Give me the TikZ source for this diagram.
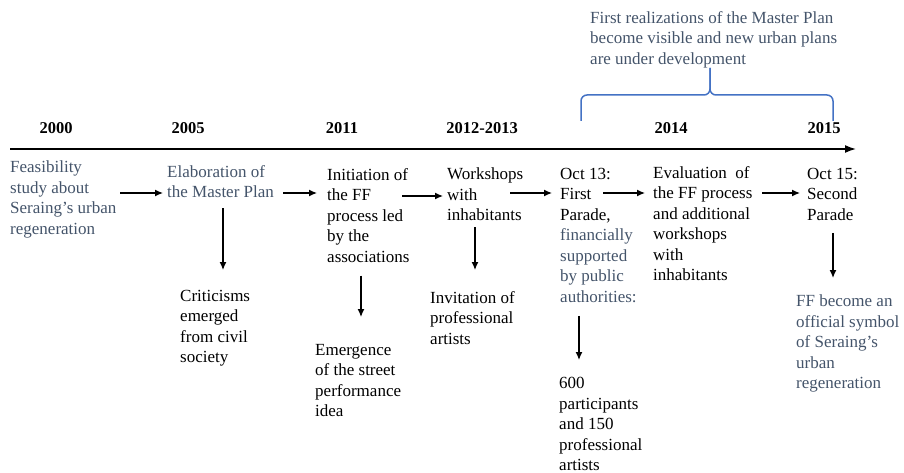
\documentclass[tikz,border=0pt]{standalone}
\usepackage{fontspec}
\setmainfont{Liberation Serif}
\usetikzlibrary{positioning,calc,arrows.meta}
\definecolor{noteblue}{HTML}{44546A}
\definecolor{braceblue}{HTML}{4472C4}

\begin{document}
\begin{tikzpicture}[
        x=1pt, y=-1pt,
        event/.style={anchor=north west, inner sep=0pt, align=left, font=\fontsize{17}{20.5}\selectfont},
        note/.style={event, text=noteblue},
        year/.style={anchor=base, inner sep=0pt, font=\fontsize{16.5}{20}\selectfont\bfseries},
        arr/.style={draw, line width=1.3pt, -{Latex[length=8pt,width=7pt]}}
    ]
        \useasboundingbox (0,0) rectangle (904,473);

        % Years
        \node[year] (Y2000) at (56,134) {2000};
        \node[year] (Y2005) at (188,134) {2005};
        \node[year] (Y2011) at (342,134) {2011};
        \node[year] (Y2012) at (482,134) {2012-2013};
        \node[year] (Y2014) at (671,134) {2014};
        \node[year] (Y2015) at (824,134) {2015};

        % Time line
        \coordinate (tlstart) at (10,149);
        \coordinate (tlend) at (856,149);
        \draw[line width=1.6pt, -{Latex[length=11pt,width=8pt]}] (tlstart) -- (tlend);

        % Main events
        \node[note] (FEAS) at (10,161) {Feasibility\\study about\\Seraing's urban\\regeneration};
        \node[note] (ELAB) at (167,165) {Elaboration of\\the Master Plan};
        \node[event] (INIT) at (327,168) {Initiation of\\the FF\\process led\\by the\\associations};
        \node[event] (WORK) at (447,168) {Workshops\\with\\inhabitants};
        \node[event] (OCT13) at (560,168) {Oct 13:\\First\\Parade,\\\textcolor{noteblue}{financially}\\\textcolor{noteblue}{supported}\\\textcolor{noteblue}{by public}\\\textcolor{noteblue}{authorities:}};
        \node[event] (EVAL) at (653,166) {Evaluation~ of\\the FF process\\and additional\\workshops\\with\\inhabitants};
        \node[event] (OCT15) at (807,168) {Oct 15:\\Second\\Parade};

        % Consequences
        \node[event] (CRIT) at (180,290) {Criticisms\\emerged\\from civil\\society};
        \node[event] (EMERG) at (315,344) {Emergence\\of the street\\performance\\idea};
        \node[event] (INVIT) at (430,291) {Invitation of\\professional\\artists};
        \node[event] (SIX) at (559,377) {600\\participants\\and 150\\professional\\artists};
        \node[note] (FFSYM) at (796,295) {FF become an\\official symbol\\of Seraing's\\urban\\regeneration};

        % Master Plan brace
        \coordinate (brL) at (581,121);
        \coordinate (brR) at (833,121);
        \coordinate (brH) at (710,95);
        \coordinate (brM) at (710,68);
        \draw[braceblue, line width=1.5pt, rounded corners=6pt] (brL) |- (brH) -- (brM);
        \draw[braceblue, line width=1.5pt, rounded corners=6pt] (brM) -- (brH) -| (brR);
        \node[note, anchor=north west] (PLAN) at (590,11) {First realizations of the Master Plan\\become visible and new urban plans\\are under development};

        % Sequence of events
        \coordinate (row) at (0,193);
        \coordinate (rowb) at (0,196);
        % FEAS -> ELAB
        \draw[arr] ($(FEAS.west |- row)+(110,0)$) -- ($(ELAB.west |- row)+(-4,0)$);
        % ELAB -> INIT
        \draw[arr] ($(ELAB.west |- row)+(116,0)$) -- ($(INIT.west |- row)+(-10,0)$);
        % INIT -> WORK
        \draw[arr] ($(INIT.west |- rowb)+(75,0)$) -- ($(WORK.west |- rowb)+(-4,0)$);
        % WORK -> OCT13
        \draw[arr] ($(WORK.west |- row)+(63,0)$) -- ($(OCT13.west |- row)+(-8,0)$);
        % OCT13 -> EVAL
        \draw[arr] ($(OCT13.west |- row)+(43,0)$) -- ($(EVAL.west |- row)+(-8,0)$);
        % EVAL -> OCT15
        \draw[arr] ($(EVAL.west |- row)+(109,0)$) -- ($(OCT15.west |- row)+(-7,0)$);

        % Downward arrows
        \draw[arr] ($(ELAB.south west)+(56,10)$) -- ($(ELAB.south west |- CRIT.north)+(56,-20)$);
        \draw[arr] ($(INIT.south west)+(34,13)$) -- ($(INIT.south west |- EMERG.north)+(34,-27)$);
        \draw[arr] ($(WORK.south west)+(28,6)$) -- ($(WORK.south west |- INVIT.north)+(28,-21)$);
        \draw[arr] ($(OCT13.south west)+(19,13)$) -- ($(OCT13.south west |- SIX.north)+(19,-17)$);
        \draw[arr] ($(OCT15.south west)+(26,12)$) -- ($(OCT15.south west |- FFSYM.north)+(26,-17)$);

    \end{tikzpicture}
\end{document}
